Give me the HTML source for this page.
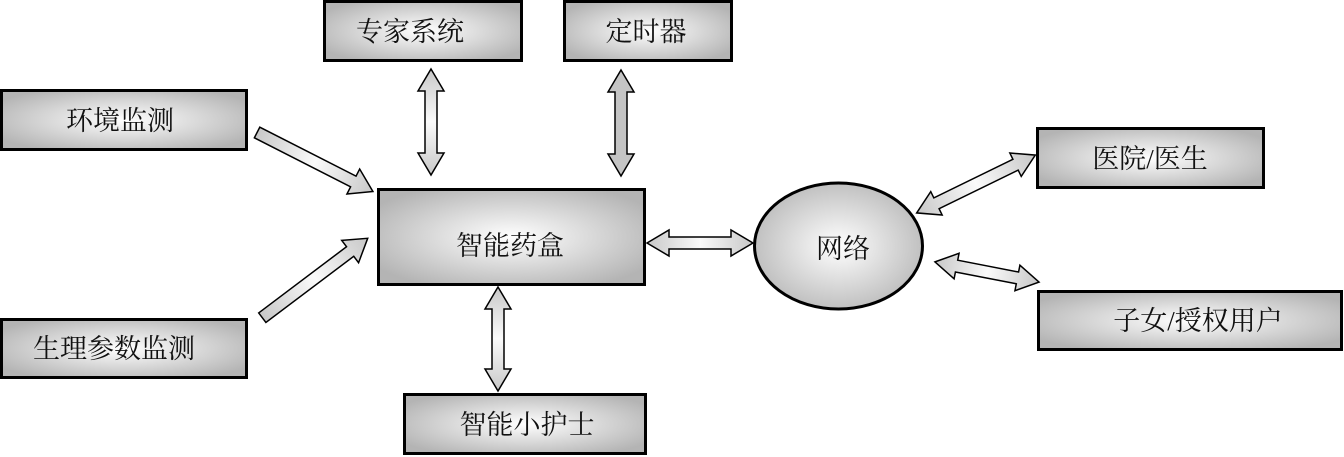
<!DOCTYPE html>
<html><head><meta charset="utf-8"><style>
html,body{margin:0;padding:0;background:#fff;}
svg{display:block}
text{font-family:"Liberation Serif","Noto Serif CJK SC","Noto Sans CJK SC",serif;font-size:27px;fill:#111;text-anchor:middle;dominant-baseline:central}
</style></head><body>
<svg width="1344" height="457" viewBox="0 0 1344 457" xmlns="http://www.w3.org/2000/svg">
<defs>
<radialGradient id="g" cx="50%" cy="50%" r="60%">
<stop offset="0" stop-color="#ffffff"/><stop offset="1" stop-color="#b4b4b4"/>
</radialGradient>
<linearGradient id="a" x1="0" y1="0" x2="1" y2="0">
<stop offset="0" stop-color="#c8c8c8"/><stop offset="0.5" stop-color="#fafafa"/><stop offset="1" stop-color="#c8c8c8"/>
</linearGradient>
</defs>
<g stroke="#000" stroke-width="3" fill="url(#g)">
<rect x="324.5" y="1.5" width="197" height="59"/>
<rect x="564.5" y="1.5" width="167" height="59"/>
<rect x="1.5" y="90.5" width="245" height="59"/>
<rect x="378.5" y="189.5" width="266" height="95"/>
<rect x="1.5" y="319.5" width="245" height="58"/>
<rect x="404.5" y="394.5" width="241" height="59"/>
<rect x="1037.5" y="128.5" width="226" height="59"/>
<rect x="1038.5" y="291.5" width="303" height="58"/>
<ellipse cx="838.5" cy="246" rx="84" ry="63"/>
</g>
<g stroke="#000" stroke-width="1.5" fill="url(#a)">
<polygon transform="translate(431,122) rotate(90)" points="-53,0 -31,-13 -31,-6 31,-6 31,-13 53,0 31,13 31,6 -31,6 -31,13"/>
<polygon transform="translate(621,123) rotate(90)" points="-53,0 -31,-13 -31,-6 31,-6 31,-13 53,0 31,13 31,6 -31,6 -31,13" fill="#c4c4c4"/>
<polygon transform="translate(498,339) rotate(90)" points="-52,0 -30,-13 -30,-6 30,-6 30,-13 52,0 30,13 30,6 -30,6 -30,13"/>
<polygon transform="translate(700,243)" points="-53,0 -31,-13 -31,-6 31,-6 31,-13 53,0 31,13 31,6 -31,6 -31,13"/>
<polygon transform="translate(976,184) rotate(-26)" points="-66,0 -44,-13 -44,-6 44,-6 44,-13 66,0 44,13 44,6 -44,6 -44,13"/>
<polygon transform="translate(987,272) rotate(11)" points="-53,0 -31,-13 -31,-6 31,-6 31,-13 53,0 31,13 31,6 -31,6 -31,13"/>
<polygon transform="translate(315,162) rotate(27)" points="-65,-6 43,-6 43,-14 65,0 43,14 43,6 -65,6"/>
<polygon transform="translate(315,278) rotate(-37)" points="-66,-6 44,-6 44,-14 66,0 44,14 44,6 -66,6"/>
</g>
<text x="410" y="32">专家系统</text>
<text x="646" y="32">定时器</text>
<text x="120" y="121">环境监测</text>
<text x="510" y="246">智能药盒</text>
<text x="114" y="349">生理参数监测</text>
<text x="527" y="425">智能小护士</text>
<text x="1150" y="159">医院/医生</text>
<text x="1198" y="321">子女/授权用户</text>
<text x="843" y="249">网络</text>
</svg>
</body></html>
